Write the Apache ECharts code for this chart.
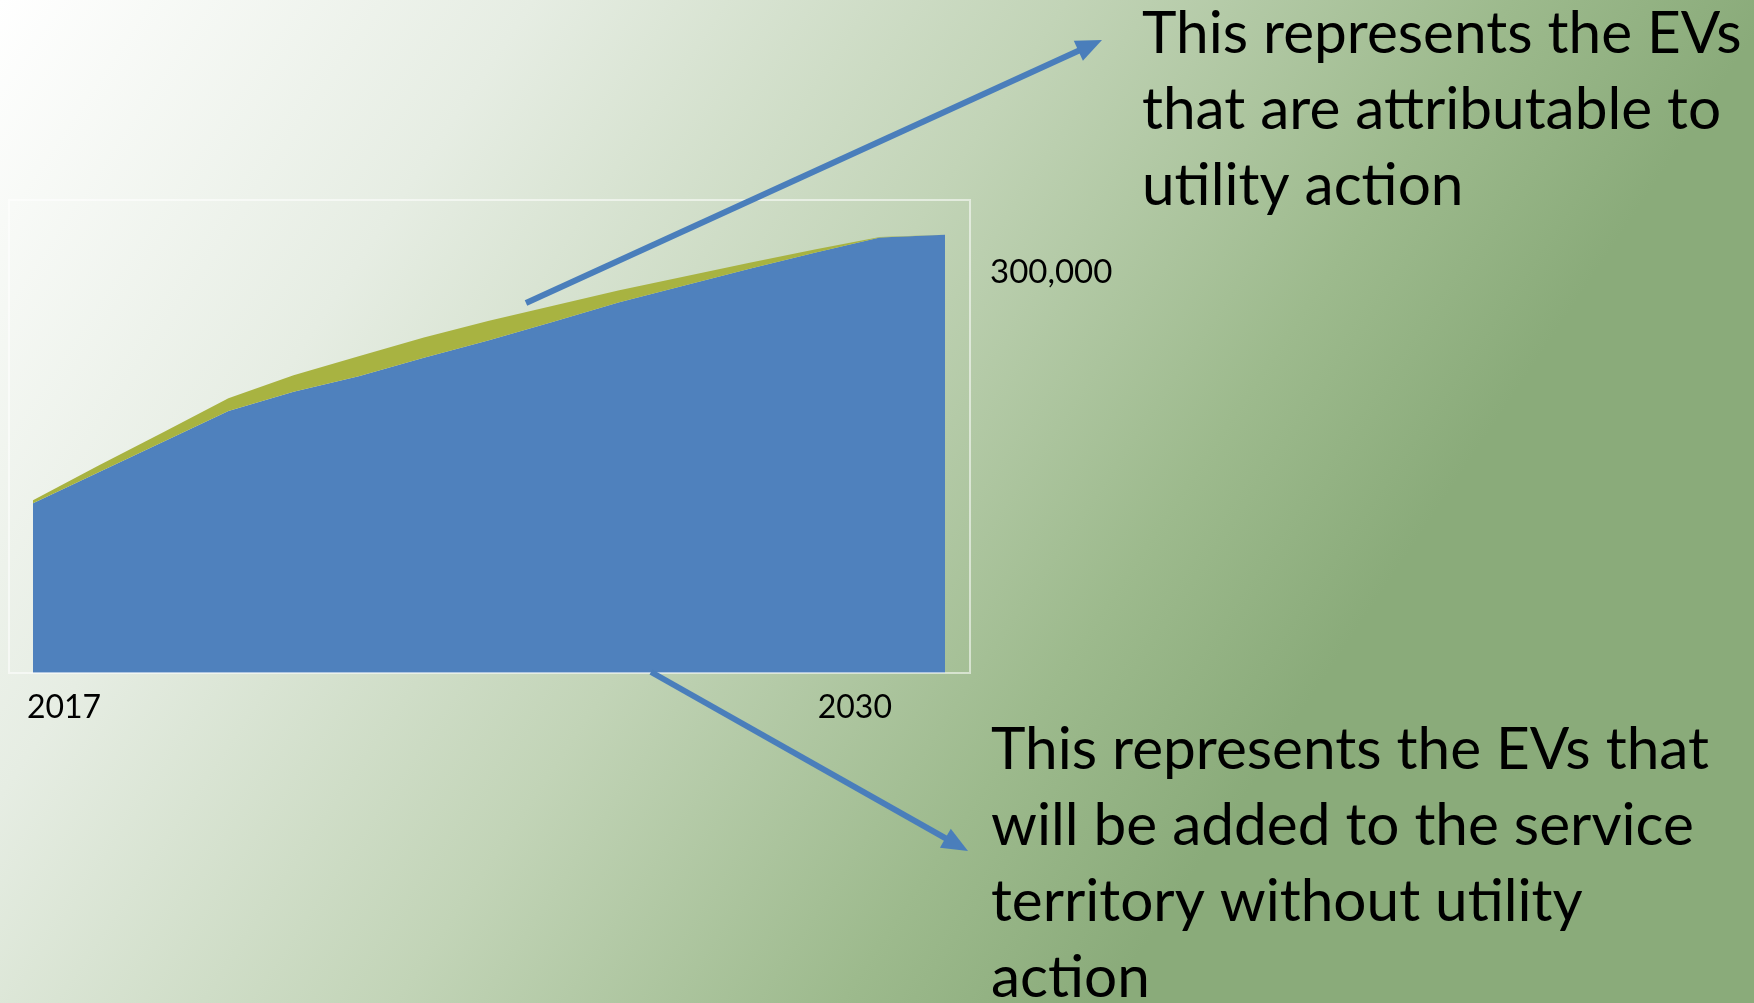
<!DOCTYPE html>
<html>
<head>
    <meta charset="utf-8" />
    <title>EV forecast</title>
    <script src="https://cdn.jsdelivr.net/npm/echarts@6.0.0/dist/echarts.min.js"></script>
    <style>
        html, body { margin: 0; padding: 0; }
    </style>
</head>
<body>
    <div id="main" style="width: 1754px;height:1003px;"></div>
    <script type="text/javascript">
        // years on the x axis (only first and 2030 are labelled)
        const years = ['2017', '2018', '2019', '2020', '2021', '2022', '2023', '2024',
            '2025', '2026', '2027', '2028', '2029', '2030', '2031'];
        const shownYears = ['2017', '2030'];
        // EVs added without utility action (blue)
        const baseEVs = [127000, 150000, 173000, 196000, 210500, 222000, 236000, 249000,
            263000, 277500, 290000, 302500, 314500, 326000, 328000];
        // EVs attributable to utility action (green, stacked on top)
        const utilityEVs = [2200, 5200, 7100, 9600, 12300, 15000, 15000, 14600,
            12000, 9000, 6800, 4600, 2400, 300, 0];
        const yTicks = [300000];

        const notes = [
            'This represents the EVs\nthat are attributable to\nutility action',
            'This represents the EVs that\nwill be added to the service\nterritory without utility\naction'
        ];

        var myChart = echarts.init(document.getElementById('main'));

        const arrowColor = '#4a7ebb';
        const textFont = '58.5px Lato';

        // arrow = line + triangle head
        function arrow(from, to) {
            var dx = to[0] - from[0], dy = to[1] - from[1];
            var len = Math.sqrt(dx * dx + dy * dy);
            var ux = dx / len, uy = dy / len;
            var headLen = 26, headW = 11;
            var bx = to[0] - ux * headLen, by = to[1] - uy * headLen;
            return [
                {
                    type: 'line',
                    z: 100,
                    shape: { x1: from[0], y1: from[1], x2: bx + ux * 2, y2: by + uy * 2 },
                    style: { stroke: arrowColor, lineWidth: 6 }
                },
                {
                    type: 'polygon',
                    z: 100,
                    shape: {
                        points: [to, [bx - uy * headW, by + ux * headW], [bx + uy * headW, by - ux * headW]]
                    },
                    style: { fill: arrowColor }
                }
            ];
        }

        var option = {
            backgroundColor: {
                type: 'linear',
                x: 0, y: 0, x2: 0.7, y2: 0.82,
                colorStops: [
                    { offset: 0, color: '#ffffff' },
                    { offset: 0.3, color: '#e6ede3' },
                    { offset: 0.6, color: '#c2d4b7' },
                    { offset: 0.85, color: '#9dba8d' },
                    { offset: 1, color: '#8aab7a' }
                ]
            },
            animation: false,
            grid: {
                left: 33,
                right: 809,
                top: 200,
                bottom: 330
            },
            xAxis: {
                type: 'category',
                data: years,
                boundaryGap: false,
                axisLine: { show: false },
                axisTick: { show: false },
                axisLabel: {
                    interval: 0,
                    margin: 19,
                    color: '#000',
                    fontFamily: 'Lato',
                    fontSize: 32,
                    formatter: function (v) {
                        if (v === shownYears[0]) return '{a|' + v + '}';
                        if (v === shownYears[1]) return '{b|' + v + '}';
                        return '';
                    },
                    rich: {
                        a: { fontFamily: 'Lato', fontSize: 32, color: '#000', padding: [0, 0, 0, 62] },
                        b: { fontFamily: 'Lato', fontSize: 32, color: '#000', padding: [0, 50, 0, 0] }
                    }
                },
                splitLine: { show: false }
            },
            yAxis: {
                type: 'value',
                position: 'right',
                min: 0,
                max: 354000,
                interval: yTicks[0],
                axisLine: { show: false },
                axisTick: { show: false },
                splitLine: { show: false },
                axisLabel: {
                    margin: 45,
                    color: '#000',
                    fontFamily: 'Lato',
                    fontSize: 33,
                    padding: [4, 0, 0, 0],
                    formatter: function (v) {
                        return yTicks.indexOf(v) >= 0 ? v.toLocaleString('en-US') : '';
                    }
                }
            },
            series: [
                {
                    name: 'Without utility action',
                    type: 'line',
                    stack: 'ev',
                    data: baseEVs,
                    symbol: 'none',
                    lineStyle: { width: 0 },
                    areaStyle: { color: '#4f81bd', opacity: 1 }
                },
                {
                    name: 'Attributable to utility action',
                    type: 'line',
                    stack: 'ev',
                    data: utilityEVs,
                    symbol: 'none',
                    lineStyle: { width: 0 },
                    areaStyle: { color: '#a8b341', opacity: 1 }
                }
            ],
            graphic: [
                {
                    type: 'rect',
                    z: 90,
                    shape: { x: 9, y: 200, width: 961, height: 473 },
                    style: { fill: 'none', stroke: 'rgba(255,255,255,0.55)', lineWidth: 2 }
                },
                {
                    type: 'text',
                    x: 1142,
                    y: -4,
                    style: { text: notes[0], font: textFont, fill: '#000', lineHeight: 76, verticalAlign: 'top' }
                },
                {
                    type: 'text',
                    x: 991,
                    y: 712,
                    style: { text: notes[1], font: textFont, fill: '#000', lineHeight: 76, verticalAlign: 'top' }
                }
            ].concat(arrow([526, 303], [1102, 40]), arrow([651, 672], [968, 851]))
        };

        myChart.setOption(option);
    </script>
</body>
</html>
